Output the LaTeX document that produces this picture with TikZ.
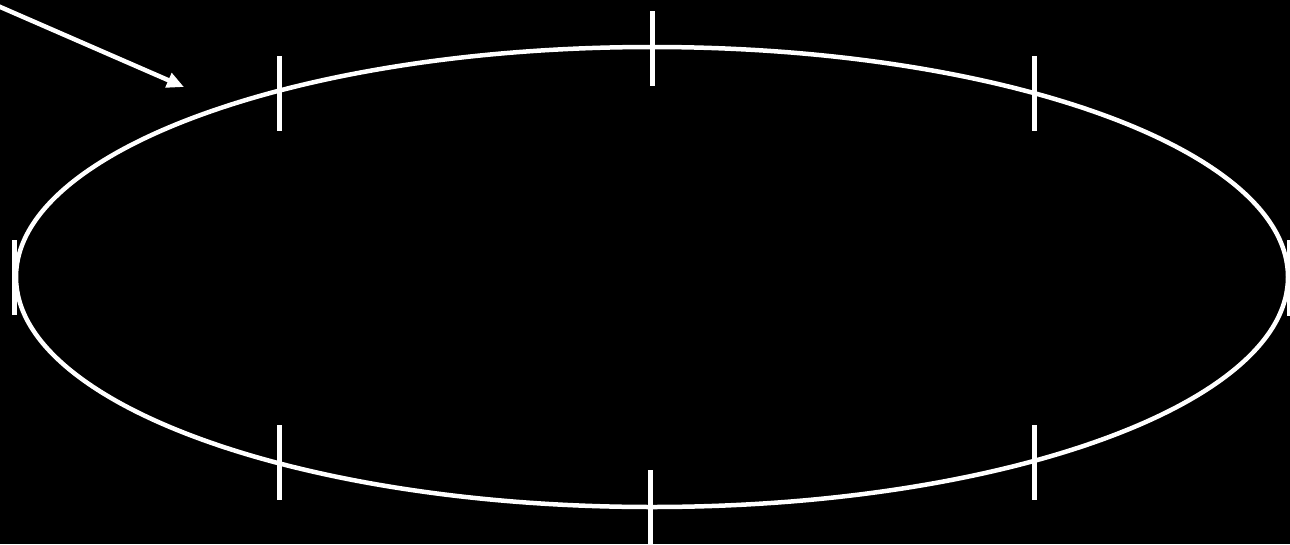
\documentclass[tikz,border=0pt]{standalone}
\usetikzlibrary{arrows.meta}
\begin{document}
\begin{tikzpicture}[x=1pt,y=-1pt,
  ring/.style={draw=white,line width=4.5pt},
  tick/.style={draw=white,line width=5pt},
  pointer/.style={draw=white,line width=4.5pt,-{Triangle[length=17pt,width=15pt]}}]
\fill[black] (0,0) rectangle (1290,544);
\useasboundingbox (0,0) rectangle (1290,544);
\draw[ring] (652,277) ellipse [x radius=636, y radius=230];
\draw[tick] (279,56) -- (279,131);
\draw[tick] (652,11) -- (652,86);
\draw[tick] (1034,56) -- (1034,131);
\draw[tick] (14,240) -- (14,315);
\draw[tick] (1289,240) -- (1289,316);
\draw[tick] (279,425) -- (279,500);
\draw[tick] (650,470) -- (650,545);
\draw[tick] (1034,425) -- (1034,500);
\coordinate (s) at (-2,6);
\coordinate (t) at (184,87);
\draw[pointer] (s) -- (t);
\end{tikzpicture}
\end{document}
